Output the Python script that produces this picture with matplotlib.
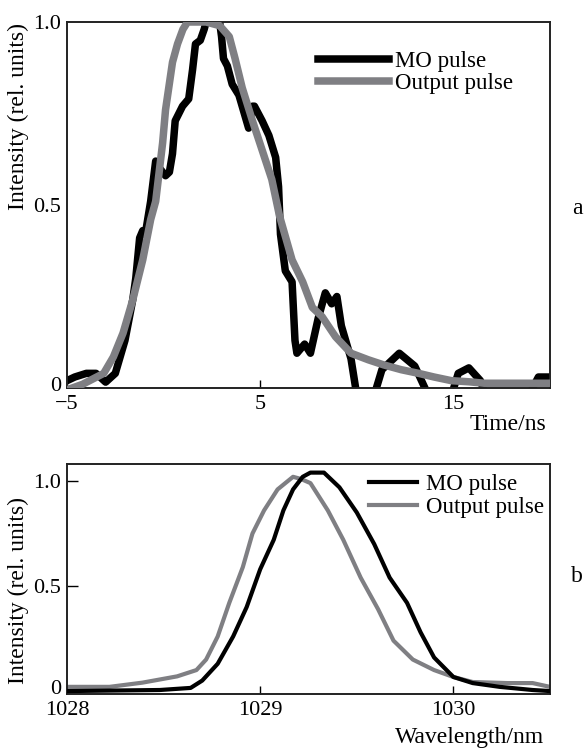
import matplotlib
matplotlib.use("Agg")
import matplotlib.pyplot as plt
from matplotlib.transforms import ScaledTranslation

plt.rcParams['font.family'] = ['Liberation Serif', 'DejaVu Serif']

# ---- panel a: temporal profiles ----
t_mo = [-5.0, -4.6, -4.0, -3.5, -3.0, -2.5, -2.0, -1.6, -1.44, -1.24, -1.08, -0.95,
        -0.67, -0.41, -0.2, 0.1, 0.3, 0.46, 0.6, 0.98, 1.3, 1.5, 1.65, 1.9, 2.1, 2.2,
        2.9, 3.0, 3.1, 3.3, 3.55, 3.9, 4.4, 4.6, 4.7, 5.1, 5.45, 5.8, 5.95, 6.05, 6.3,
        6.65, 6.8, 6.9, 7.3, 7.6, 8.0, 8.37, 8.7, 8.97, 9.2, 9.7, 10.0, 10.9, 11.3,
        12.2, 13.0, 13.7, 14.9, 15.25, 15.8, 16.4, 16.6, 19.0, 19.2, 19.4, 20.0]
i_mo = [0.02, 0.03, 0.04, 0.04, 0.016, 0.04, 0.13, 0.24, 0.30, 0.41, 0.43, 0.42,
        0.51, 0.62, 0.60, 0.58, 0.59, 0.64, 0.73, 0.77, 0.79, 0.87, 0.94, 0.95, 0.98, 1.0,
        1.0, 0.96, 0.90, 0.88, 0.83, 0.80, 0.71, 0.77, 0.77, 0.73, 0.69, 0.63, 0.55, 0.42, 0.32,
        0.29, 0.13, 0.095, 0.12, 0.095, 0.19, 0.26, 0.23, 0.25, 0.17, 0.08, -0.02, -0.02, 0.05,
        0.095, 0.06, -0.02, -0.02, 0.04, 0.055, 0.02, -0.01, -0.01, 0.01, 0.03, 0.03]

t_out = [-5.0, -4.2, -3.1, -2.6, -2.1, -1.6, -1.08, -0.67, -0.41, -0.05, 0.1, 0.46,
         0.72, 1.0, 1.24, 2.2, 2.9, 3.4, 3.7, 4.07, 4.6, 5.1, 5.6, 6.0, 6.65, 7.2,
         7.7, 8.2, 8.9, 9.7, 10.6, 11.4, 12.3, 13.2, 14.0, 14.9, 15.8, 16.6, 20.0]
i_out = [-0.005, 0.01, 0.04, 0.085, 0.15, 0.24, 0.35, 0.46, 0.51, 0.67, 0.76, 0.89,
         0.94, 0.98, 1.0, 1.0, 0.99, 0.96, 0.90, 0.82, 0.73, 0.65, 0.57, 0.47, 0.35, 0.29,
         0.22, 0.195, 0.14, 0.095, 0.077, 0.063, 0.05, 0.04, 0.03, 0.02, 0.017, 0.013, 0.013]

# ---- panel b: spectra ----
wl_mo = [1028.0, 1028.48, 1028.64, 1028.7, 1028.78, 1028.86, 1028.93, 1029.0, 1029.07,
         1029.12, 1029.17, 1029.22, 1029.26, 1029.33, 1029.41, 1029.5, 1029.59, 1029.67,
         1029.76, 1029.83, 1029.9, 1030.0, 1030.1, 1030.24, 1030.41, 1030.5]
s_mo = [0.0, 0.005, 0.015, 0.05, 0.13, 0.26, 0.40, 0.58, 0.72,
        0.86, 0.96, 1.02, 1.04, 1.04, 0.97, 0.85, 0.70, 0.54,
        0.42, 0.28, 0.16, 0.067, 0.038, 0.02, 0.005, 0.0]

wl_out = [1028.0, 1028.22, 1028.39, 1028.57, 1028.67, 1028.72, 1028.78, 1028.84, 1028.91,
          1028.96, 1029.02, 1029.09, 1029.17, 1029.21, 1029.26, 1029.35, 1029.43, 1029.52,
          1029.61, 1029.69, 1029.79, 1029.9, 1030.0, 1030.1, 1030.28, 1030.41, 1030.5]
s_out = [0.02, 0.02, 0.04, 0.07, 0.10, 0.15, 0.26, 0.42, 0.59,
         0.75, 0.86, 0.96, 1.02, 1.01, 0.99, 0.86, 0.72, 0.54,
         0.39, 0.24, 0.15, 0.10, 0.067, 0.043, 0.038, 0.038, 0.02]

labels = ['MO pulse', 'Output pulse']
c_mo = '#000000'
c_out = '#7f7f83'

W, H = 584, 749
fig = plt.figure(figsize=(W / 100, H / 100), dpi=100)

def px_axes(l, t, r, b):
    return fig.add_axes([l / W, 1 - b / H, (r - l) / W, (b - t) / H])

FS_T = 16     # tick labels
FS_L = 17     # axis labels
FS_G = 16.5   # legend

def nudge_zero(ax, dy_px):
    lab = ax.get_yticklabels()[0]
    lab.set_transform(lab.get_transform() + ScaledTranslation(0, dy_px / 100, fig.dpi_scale_trans))

# panel a
ax1 = px_axes(67, 22, 550, 388)
ax1.plot(t_mo, i_mo, color=c_mo, lw=5.4, solid_joinstyle='round', label=labels[0], zorder=2)
ax1.plot(t_out, i_out, color=c_out, lw=5.4, solid_joinstyle='round', label=labels[1], zorder=3)
ax1.set_xlim(-5, 20)
ax1.set_ylim(0, 1.0)
ax1.set_xticks([-5, 5, 15])
ax1.set_xticklabels(['\u22125', '5', '15'])
ax1.set_yticks([0, 0.5, 1.0])
ax1.set_yticklabels(['0', '0.5', '1.0'])
ax1.tick_params(axis='x', direction='in', length=6, width=1, pad=5, labelsize=FS_T)
ax1.tick_params(axis='y', direction='in', length=0, pad=4, labelsize=FS_T)
for s in ax1.spines.values():
    s.set_linewidth(1.4)
    s.set_color('#222222')
ax1.legend(loc='upper left', bbox_to_anchor=(318 / W, 1 - 51 / H), bbox_transform=fig.transFigure,
           frameon=False, fontsize=FS_G, handlelength=3.1, handletextpad=0.25,
           labelspacing=0.02, borderpad=0, borderaxespad=0)
nudge_zero(ax1, 4)

# panel b
ax2 = px_axes(67, 464, 550, 694)
ax2.plot(wl_out, s_out, color=c_out, lw=3.0, label=labels[1], zorder=2)
ax2.plot(wl_mo, s_mo, color=c_mo, lw=3.0, label=labels[0], zorder=3)
ax2.set_xlim(1028, 1030.5)
ax2.set_ylim(-0.014, 1.081)
ax2.set_xticks([1028, 1029, 1030])
ax2.set_xticklabels(['1028', '1029', '1030'])
ax2.set_yticks([0, 0.5, 1.0])
ax2.set_yticklabels(['0', '0.5', '1.0'])
ax2.tick_params(axis='x', direction='in', length=6, width=1, pad=5, labelsize=FS_T)
ax2.tick_params(axis='y', direction='in', length=8, width=1, pad=4, labelsize=FS_T)
for s in ax2.spines.values():
    s.set_linewidth(1.4)
    s.set_color('#222222')
h, l = ax2.get_legend_handles_labels()
ax2.legend([h[1], h[0]], [l[1], l[0]], loc='upper left', bbox_to_anchor=(369 / W, 1 - 474 / H),
           bbox_transform=fig.transFigure, frameon=False, fontsize=FS_G, handlelength=2.1,
           handletextpad=0.4, labelspacing=0.1, borderpad=0, borderaxespad=0)
nudge_zero(ax2, 4)

# axis labels and panel letters
fig.text(18 / W, 1 - 117 / H, 'Intensity (rel. units)', rotation=90, ha='center', va='center', fontsize=FS_L)
fig.text(18 / W, 1 - 590 / H, 'Intensity (rel. units)', rotation=90, ha='center', va='center', fontsize=FS_L)
fig.text(546 / W, 1 - 425 / H, 'Time/ns', ha='right', va='center', fontsize=FS_L)
fig.text(544 / W, 1 - 738 / H, 'Wavelength/nm', ha='right', va='center', fontsize=FS_L)
fig.text(577 / W, 1 - 208 / H, 'a', ha='center', va='center', fontsize=FS_L)
fig.text(577 / W, 1 - 577 / H, 'b', ha='center', va='center', fontsize=FS_L)

fig.savefig('out.png', dpi=100)
